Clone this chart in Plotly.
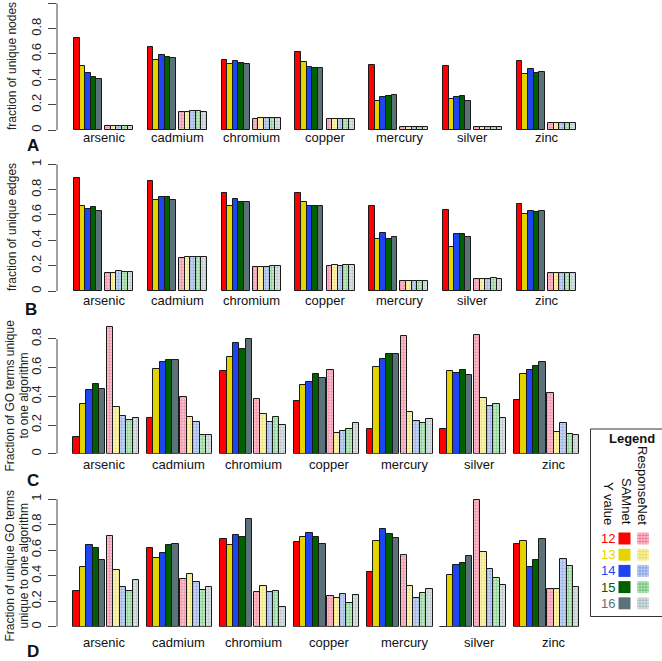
import plotly.graph_objects as go

W, H = 662, 661

metals = ["arsenic", "cadmium", "chromium", "copper", "mercury", "silver", "zinc"]
y_values = ["12", "13", "14", "15", "16"]
algorithms = ["SAMnet", "ResponseNet"]
panel_letters = ["A", "B", "C", "D"]
y_titles = [["fraction of unique nodes"],
            ["fraction of unique edges"],
            ["Fraction of GO terms unique", "to one algorithm"],
            ["Fraction of unique GO terms", "unique to one algorithm"]]
ticks_full = [0, 0.2, 0.4, 0.6, 0.8, 1]
ticks_c = [0, 0.2, 0.4, 0.6, 0.8]

# rows = y value 12..16, columns = metals
nodes_samnet = [
    [0.724, 0.653, 0.553, 0.616, 0.516, 0.505, 0.547],
    [0.508, 0.550, 0.518, 0.534, 0.226, 0.247, 0.445],
    [0.447, 0.595, 0.545, 0.500, 0.263, 0.258, 0.484],
    [0.421, 0.574, 0.526, 0.489, 0.266, 0.271, 0.450],
    [0.405, 0.566, 0.521, 0.489, 0.276, 0.232, 0.455],
]
nodes_responsenet = [
    [0.033, 0.145, 0.090, 0.083, 0.021, 0.021, 0.055],
    [0.033, 0.145, 0.092, 0.083, 0.021, 0.021, 0.055],
    [0.032, 0.147, 0.092, 0.084, 0.020, 0.021, 0.056],
    [0.035, 0.148, 0.092, 0.084, 0.021, 0.022, 0.056],
    [0.035, 0.146, 0.092, 0.084, 0.020, 0.021, 0.058],
]
edges_samnet = [
    [0.89, 0.87, 0.77, 0.77, 0.67, 0.64, 0.69],
    [0.67, 0.72, 0.67, 0.70, 0.41, 0.35, 0.61],
    [0.65, 0.74, 0.73, 0.67, 0.46, 0.45, 0.63],
    [0.66, 0.74, 0.70, 0.67, 0.41, 0.45, 0.62],
    [0.63, 0.72, 0.70, 0.67, 0.43, 0.43, 0.63],
]
edges_responsenet = [
    [0.145, 0.260, 0.190, 0.200, 0.080, 0.095, 0.140],
    [0.145, 0.265, 0.190, 0.205, 0.080, 0.095, 0.145],
    [0.155, 0.270, 0.190, 0.200, 0.080, 0.095, 0.140],
    [0.150, 0.270, 0.195, 0.205, 0.080, 0.105, 0.140],
    [0.150, 0.265, 0.195, 0.205, 0.080, 0.095, 0.145],
]
go_samnet = [
    [0.114, 0.249, 0.579, 0.365, 0.174, 0.170, 0.372],
    [0.349, 0.593, 0.672, 0.477, 0.605, 0.577, 0.556],
    [0.444, 0.637, 0.774, 0.500, 0.660, 0.560, 0.581],
    [0.488, 0.656, 0.728, 0.553, 0.693, 0.581, 0.614],
    [0.453, 0.656, 0.800, 0.528, 0.698, 0.549, 0.637],
]
go_responsenet = [
    [0.886, 0.398, 0.384, 0.584, 0.823, 0.828, 0.421],
    [0.323, 0.258, 0.274, 0.142, 0.293, 0.386, 0.151],
    [0.260, 0.223, 0.223, 0.160, 0.228, 0.333, 0.214],
    [0.235, 0.133, 0.258, 0.172, 0.216, 0.349, 0.140],
    [0.246, 0.133, 0.198, 0.212, 0.240, 0.251, 0.130],
]
ugo_samnet = [
    [0.277, 0.619, 0.684, 0.663, 0.426, 0.000, 0.645],
    [0.467, 0.538, 0.640, 0.702, 0.674, 0.405, 0.674],
    [0.642, 0.574, 0.721, 0.731, 0.765, 0.480, 0.465],
    [0.614, 0.637, 0.705, 0.702, 0.728, 0.496, 0.520],
    [0.520, 0.650, 0.841, 0.645, 0.695, 0.551, 0.684],
]
ugo_responsenet = [
    [0.713, 0.371, 0.272, 0.238, 0.564, 0.995, 0.295],
    [0.441, 0.413, 0.319, 0.222, 0.319, 0.587, 0.292],
    [0.313, 0.350, 0.269, 0.258, 0.227, 0.452, 0.530],
    [0.277, 0.287, 0.282, 0.188, 0.261, 0.384, 0.475],
    [0.366, 0.308, 0.151, 0.248, 0.298, 0.329, 0.308],
]

solid_colors = ["#ff0000", "#e3d400", "#1f45f0", "#006000", "#5b7378"]
hatch_bg = ["#f9bccb", "#fbf3b4", "#c6d3f0", "#bfe8c2", "#dae1e3"]
hatch_fg = ["#ec5f7e", "#e2cf35", "#5f86de", "#43ad52", "#92a8ae"]

panel_data = [
    (nodes_samnet, nodes_responsenet),
    (edges_samnet, edges_responsenet),
    (go_samnet, go_responsenet),
    (ugo_samnet, ugo_responsenet),
]

# layout geometry (pixels)
geom = [
    dict(zero=130.0, unit=126.7, top=0.0, ticks=ticks_full, start=74.0, step=73.8, w=5.6, g=3.2,
         lab0=103.7, labstep=73.85, laby=137.5, letter=(32.5, 145), title=[(12, 66)]),
    dict(zero=291.0, unit=126.7, top=158.0, ticks=ticks_full, start=74.0, step=73.8, w=5.6, g=3.2,
         lab0=103.7, labstep=73.85, laby=300.5, letter=(31, 310), title=[(12, 227)]),
    dict(zero=453.7, unit=143.4, top=315.0, ticks=ticks_c, start=73.3, step=73.4, w=6.4, g=1.7,
         lab0=103.7, labstep=75.1, laby=464.5, letter=(32.5, 480), title=[(9.5, 396), (23.5, 396)]),
    dict(zero=626.7, unit=127.7, top=495.0, ticks=ticks_full, start=73.3, step=73.4, w=6.4, g=1.7,
         lab0=103.7, labstep=75.1, laby=642, letter=(32.5, 651.5), title=[(9.5, 566), (23.5, 566)]),
]

AX_X = 57.0
FONT = "Liberation Sans, Arial, Helvetica, sans-serif"

def px(x):
    return x / W

def py(y):
    return 1 - y / H

fig = go.Figure()
annotations = []
shapes = []

for p, (samnet, respnet) in enumerate(panel_data):
    g = geom[p]
    yname = "y" if p == 0 else f"y{p+1}"
    for a, series in enumerate((samnet, respnet)):
        for k, vals in enumerate(series):
            xs = [g["start"] + g["step"] * m + a * (5 * g["w"] + g["g"]) + (k + 0.5) * g["w"]
                  for m in range(len(metals))]
            marker = dict(line=dict(color="#1a1a1a", width=1))
            if a == 0:
                marker["color"] = solid_colors[k]
            else:
                marker["color"] = hatch_bg[k]
                marker["pattern"] = dict(shape="+", size=3, solidity=0.35,
                                         fgcolor=hatch_fg[k], bgcolor=hatch_bg[k],
                                         fillmode="overlay")
            fig.add_trace(go.Bar(x=xs, y=vals, width=g["w"], marker=marker,
                                 xaxis="x", yaxis=yname, showlegend=False,
                                 name=f"{algorithms[a]} {y_values[k]}",
                                 hovertext=metals))
    ax = dict(
        domain=[py(g["zero"]), py(g["top"])],
        range=[0, (g["zero"] - g["top"]) / g["unit"]],
        anchor="x", tickvals=g["ticks"], ticktext=[f"{t:g}" for t in g["ticks"]],
        ticks="outside", ticklen=8, tickwidth=1, tickcolor="#444",
        tickangle=-90, tickfont=dict(size=13, color="#222", family=FONT),
        showgrid=False, zeroline=False, showline=False, automargin=False,
        ticklabelstandoff=2,
    )
    fig.layout["yaxis" if p == 0 else f"yaxis{p+1}"] = ax
    shapes.append(dict(type="line", xref="paper", yref=yname,
                       x0=px(AX_X), x1=px(AX_X), y0=min(g["ticks"]), y1=max(g["ticks"]),
                       line=dict(color="#444", width=1)))
    for m, name in enumerate(metals):
        annotations.append(dict(x=px(g["lab0"] + g["labstep"] * m), y=py(g["laby"]),
                                xref="paper", yref="paper", text=name, showarrow=False,
                                xanchor="center", yanchor="middle",
                                font=dict(size=13, color="#111", family=FONT)))
    annotations.append(dict(x=px(g["letter"][0]), y=py(g["letter"][1]), xref="paper", yref="paper",
                            text=f"<b>{panel_letters[p]}</b>", showarrow=False,
                            xanchor="center", yanchor="middle",
                            font=dict(size=17, color="#111", family=FONT)))
    for (tx, ty), line in zip(g["title"], y_titles[p]):
        annotations.append(dict(x=px(tx), y=py(ty), xref="paper", yref="paper",
                                text=line, showarrow=False, textangle=-90,
                                xanchor="center", yanchor="middle",
                                font=dict(size=12, color="#222", family=FONT)))

# legend box
shapes.append(dict(type="rect", xref="paper", yref="paper",
                   x0=px(590.5), x1=px(663), y0=py(616.5), y1=py(429),
                   line=dict(color="#333", width=1), fillcolor="white", layer="below"))
annotations.append(dict(x=px(632), y=py(438.5), xref="paper", yref="paper", text="<b>Legend</b>",
                        showarrow=False, xanchor="center", yanchor="middle",
                        font=dict(size=13, color="#111", family=FONT)))
for xc, txt in [(642.5, "ResponseNet"), (626.5, "SAMnet"), (608.5, "Y value")]:
    annotations.append(dict(x=px(xc), y=py(527), xref="paper", yref="paper", text=txt,
                            showarrow=False, textangle=90, xanchor="center", yanchor="bottom",
                            font=dict(size=13, color="#111", family=FONT)))
for k, yv in enumerate(y_values):
    yc = 538.5 + 16.2 * k
    annotations.append(dict(x=px(607.5), y=py(yc), xref="paper", yref="paper", text=yv,
                            showarrow=False, xanchor="center", yanchor="middle",
                            font=dict(size=13, color=solid_colors[k], family=FONT)))
    shapes.append(dict(type="rect", xref="paper", yref="paper",
                       x0=px(618.5), x1=px(630.5), y0=py(yc + 6), y1=py(yc - 6),
                       line=dict(width=0), fillcolor=solid_colors[k]))
    shapes.append(dict(type="rect", xref="paper", yref="paper",
                       x0=px(637), x1=px(649), y0=py(yc + 6), y1=py(yc - 6),
                       line=dict(width=0), fillcolor=hatch_bg[k]))
    for j in range(1, 4):
        shapes.append(dict(type="line", xref="paper", yref="paper",
                           x0=px(637 + 3 * j), x1=px(637 + 3 * j), y0=py(yc + 6), y1=py(yc - 6),
                           line=dict(color=hatch_fg[k], width=0.6)))
        shapes.append(dict(type="line", xref="paper", yref="paper",
                           x0=px(637), x1=px(649), y0=py(yc - 6 + 3 * j), y1=py(yc - 6 + 3 * j),
                           line=dict(color=hatch_fg[k], width=0.6)))

fig.update_layout(
    template="none",
    width=W, height=H,
    margin=dict(l=0, r=0, t=0, b=0, pad=0),
    paper_bgcolor="white", plot_bgcolor="rgba(0,0,0,0)",
    barmode="overlay", bargap=0,
    xaxis=dict(domain=[px(AX_X), 1], range=[AX_X, W], visible=False, anchor="y4",
               automargin=False, fixedrange=True),
    font=dict(family=FONT, color="#222"),
    annotations=annotations, shapes=shapes,
    showlegend=False,
)

fig.write_html("out.html",
               config={"displayModeBar": False},
               post_script="document.body.style.margin='0';document.body.style.overflow='hidden';")
